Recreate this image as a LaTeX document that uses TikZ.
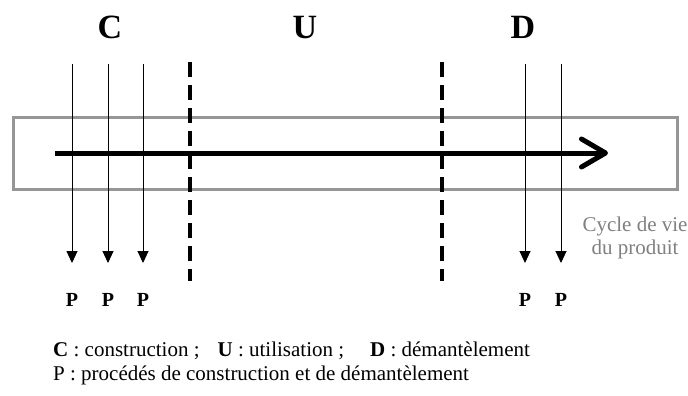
\documentclass[tikz,border=0pt]{standalone}
\usepackage{fontspec}
\setmainfont{Liberation Serif}
\usetikzlibrary{arrows.meta}
\definecolor{bandgray}{RGB}{150,150,150}
\definecolor{notegray}{RGB}{128,128,128}

\begin{document}
\begin{tikzpicture}[x=1pt,y=-1pt,
    phase/.style={anchor=base, inner sep=0pt, font=\fontsize{34}{40}\selectfont\bfseries},
    proclbl/.style={anchor=base, inner sep=0pt, font=\fontsize{20}{24}\selectfont\bfseries},
    proc/.style={-{Triangle[length=12pt,width=11pt]}, line width=1pt},
    limit/.style={line width=4pt, dash pattern=on 15pt off 8pt},
    band/.style={draw=bandgray, line width=3pt, minimum width=664pt, minimum height=72pt, inner sep=0pt},
    lifeline/.style={-{Straight Barb[length=24pt,width=28pt,round]}, line width=5pt}]
    \useasboundingbox (0,0) rectangle (688,396);
    % Product life cycle band
    \node[band] (band) at (345,153.5) {};
    \coordinate (start) at (55,153);
    \coordinate (tip) at (608,153);
    \draw[lifeline] (start) -- (tip);
    \node[font=\fontsize{21}{23}\selectfont, text=notegray, align=center, anchor=base] (note) at (635,254) {Cycle de vie\\du produit};

    % Phases
    \node[phase] (phaseC) at (110,39) {C};
    \node[phase] (phaseU) at (305,39) {U};
    \node[phase] (phaseD) at (523,39) {D};

    % Phase limits
    \coordinate (limCU) at (190,62);
    \coordinate (limCUend) at (190,281);
    \coordinate (limUD) at (442,62);
    \coordinate (limUDend) at (442,281);
    \draw[limit] (limCU) -- (limCUend);
    \draw[limit] (limUD) -- (limUDend);

    % Processes
    \coordinate (in1) at (72,64);
    \coordinate (out1) at (72,263);
    \coordinate (in2) at (108,64);
    \coordinate (out2) at (108,263);
    \coordinate (in3) at (143,64);
    \coordinate (out3) at (143,263);
    \coordinate (in4) at (525,64);
    \coordinate (out4) at (525,263);
    \coordinate (in5) at (561,64);
    \coordinate (out5) at (561,263);
    \draw[proc] (in1) -- (out1);
    \draw[proc] (in2) -- (out2);
    \draw[proc] (in3) -- (out3);
    \draw[proc] (in4) -- (out4);
    \draw[proc] (in5) -- (out5);
    \node[proclbl] (p1) at (72,306) {P};
    \node[proclbl] (p2) at (108,306) {P};
    \node[proclbl] (p3) at (143,306) {P};
    \node[proclbl] (p4) at (525,306) {P};
    \node[proclbl] (p5) at (561,306) {P};

    % Legend
    \node[anchor=base west, align=left, inner sep=0pt, font=\fontsize{21}{24}\selectfont] (legend) at (53,380)
      {\textbf{C} : construction ;\hspace{18pt}\textbf{U} : utilisation ;\hspace{26pt}\textbf{D} : démantèlement\\
       P : procédés de construction et de démantèlement};
\end{tikzpicture}
\end{document}
